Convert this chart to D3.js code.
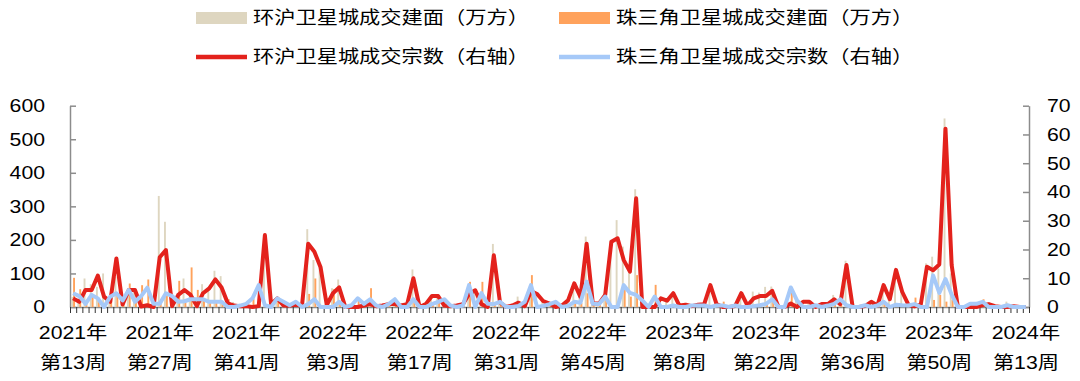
<!DOCTYPE html>
<html>
<head>
<meta charset="utf-8">
<script src="https://cdn.jsdelivr.net/npm/d3@7"></script>
<style>
  body { margin: 0; background: #fff; }
  svg text { font-family: "Liberation Sans", Arial, "Noto Sans CJK SC", sans-serif; fill: #000; }
</style>
</head>
<body>
<svg id="chart"></svg>
<script>
// week ranges: [year, first week, last week]
const weekRanges = [[2021, 13, 52], [2022, 1, 52], [2023, 2, 52], [2024, 2, 13]]
const categories = []
weekRanges.forEach(([yr, a, b]) => {
  for (let w = a; w <= b; w++) categories.push(`${yr}年第${w}周`)
})

const seriesNames = ['环沪卫星城成交建面（万方）', '珠三角卫星城成交建面（万方）', '环沪卫星城成交宗数（右轴）', '珠三角卫星城成交宗数（右轴）']

// 环沪卫星城成交建面（万方）
const hzArea = [30, 20, 85, 68, 60, 100, 20, 90, 10, 50, 45, 5, 10, 0, 331, 254, 5, 40, 85, 40,
  5, 68, 55, 108, 92, 15, 15, 7, 5, 0, 5, 200, 10, 25, 5, 5, 8, 5, 232, 140,
  120, 8, 56, 82, 0, 0, 0, 5, 10, 3, 5, 10, 10, 5, 10, 112, 0, 10, 35, 35,
  5, 3, 5, 10, 40, 50, 10, 0, 188, 15, 0, 5, 31, 3, 50, 40, 20, 12, 0, 5,
  20, 70, 30, 210, 10, 10, 40, 200, 259, 180, 110, 351, 0, 0, 0, 25, 20, 40, 5, 8,
  3, 8, 10, 65, 10, 0, 0, 3, 40, 5, 46, 43, 60, 61, 0, 0, 10, 21, 15, 15,
  0, 8, 8, 36, 8, 138, 0, 0, 3, 15, 5, 65, 25, 110, 45, 5, 2, 8, 130, 150,
  115, 562, 100, 0, 0, 0, 0, 6, 8, 3, 0, 16, 3, 0, 0]

// 珠三角卫星城成交建面（万方）
const zsjArea = [87, 53, 10, 30, 25, 0, 30, 40, 20, 70, 15, 65, 82, 10, 10, 40, 30, 78, 15, 118,
  51, 25, 15, 15, 15, 23, 0, 4, 10, 25, 60, 5, 0, 25, 15, 5, 15, 0, 39, 85,
  0, 0, 53, 15, 0, 5, 25, 10, 56, 4, 0, 8, 22, 0, 0, 22, 0, 0, 8, 15,
  22, 4, 0, 4, 75, 0, 75, 9, 8, 15, 0, 0, 3, 15, 95, 0, 3, 8, 15, 0,
  3, 15, 12, 41, 9, 8, 30, 0, 0, 60, 31, 95, 19, 0, 66, 0, 0, 4, 0, 0,
  4, 4, 4, 0, 4, 16, 0, 4, 0, 0, 2, 5, 9, 31, 0, 0, 46, 18, 0, 0,
  5, 0, 4, 9, 22, 5, 0, 0, 5, 0, 4, 15, 0, 6, 5, 4, 28, 0, 0, 21,
  36, 16, 21, 0, 0, 9, 14, 23, 0, 0, 0, 5, 0, 0, 0]

// 环沪卫星城成交宗数（右轴）
const hzCount = [3, 1.8, 5.9, 5.9, 10.9, 3.6, 1.8, 16.9, 0.9, 5.9, 5.9, 0.2, 0.6, 0, 17.3, 19.8, 0.3, 4.2, 5.9, 4.2,
  0.3, 4.8, 6.5, 9.6, 6.8, 1.3, 0.5, 0.3, 0.3, 0, 0.3, 25, 1, 3, 0.5, 0.5, 0.8, 0.5, 22, 19.2,
  13.8, 0.7, 4.8, 6.8, 0, 0, 0, 0.5, 1, 0.3, 0.5, 1, 1, 0.5, 1, 10, 0, 1, 3.8, 3.8,
  0.5, 0.3, 0.5, 1, 4.5, 5.8, 1, 0, 18, 1.6, 0, 0.5, 1.5, 0.3, 5.5, 4.5, 2, 1.2, 0, 0.5,
  2.3, 8.2, 3.5, 22, 1.2, 1.2, 4.2, 22.7, 23.9, 16.3, 12.3, 37.8, 0, 0, 0, 3, 2.2, 4.8, 0.5, 0.8,
  0.3, 0.8, 1, 7.6, 1, 0, 0, 0.3, 4.8, 0.5, 3, 3.8, 3.8, 5.6, 0, 0, 1.2, 0, 1.8, 1.8,
  0, 1, 1, 2.7, 1, 14.6, 0, 0, 0.3, 1.8, 0.5, 7.6, 2.7, 12.9, 5.3, 0.8, 0.2, 0.8, 14, 12.8,
  14.8, 62, 14.6, 0, 0, 0, 0, 0.7, 1, 0.3, 0, 0, 0.3, 0, 0]

// 珠三角卫星城成交宗数（右轴）
const zsjCount = [4.8, 3.8, 1.1, 4.2, 3, 0, 3.6, 4.8, 2.3, 5.9, 1.8, 3.8, 6.7, 1.1, 1.1, 4.8, 3.8, 1.8, 2, 2.7,
  2.7, 2.7, 1.8, 1.8, 1.8, 0, 0, 0.5, 1.1, 3, 7.6, 0.6, 0, 3, 1.8, 0.6, 1.8, 0, 1, 2.7,
  0, 0, 0, 1.8, 0, 0.6, 3, 1.1, 2.7, 0.5, 0, 1, 2.7, 0, 0, 2.7, 0, 0, 1, 1.8,
  2.7, 0.5, 0, 0.5, 7.6, 0, 4.8, 1.1, 1, 1.8, 0, 0, 0.4, 1.8, 7.6, 0, 0.4, 1, 1.8, 0,
  0.4, 1.8, 1.5, 8.8, 1.1, 1, 3.6, 0, 0, 7.6, 4.9, 4.2, 2.3, 0, 3.6, 0, 0, 0.5, 0, 0,
  0.5, 0.5, 0.5, 0, 0.5, 0.5, 0, 0.5, 0, 0, 0.3, 0.6, 1.1, 2.7, 0, 0, 6.8, 2.3, 0, 0,
  0.6, 0, 0.5, 1.1, 2.7, 0.6, 0, 0, 0.6, 0, 0.5, 1.8, 0, 0.8, 0.6, 0.5, 1, 0, 0, 11,
  4.9, 9.7, 4.3, 0, 0, 1.1, 1.1, 1.8, 0, 0, 0, 0.6, 0, 0, 0]

const leftTicks = [0, 100, 200, 300, 400, 500, 600]
const rightTicks = [0, 10, 20, 30, 40, 50, 60, 70]
const labelEvery = 14

const W = 1080
const H = 381
const plotLeft = 70
const plotRight = 1029
const plotTop = 105.7
const plotBottom = 307
const sx = 1.18 // the source text is a bit wider than tall
const fontSize = 18

const colors = {
  hz: '#DED6C0',
  zsj: '#FFA25C',
  hzLine: '#E3221C',
  zsjLine: '#A6C9F8',
  axis: '#8C8C8C',
}

const svg = d3.select('#chart').attr('width', W).attr('height', H)

const x = d3.scaleBand().domain(categories).range([plotLeft, plotRight])
const xSub = d3.scaleBand().domain(['hz', 'zsj']).range([1.2, 5.0])
const xEdge = d3.scaleLinear().domain([0, categories.length]).range([plotLeft, plotRight])
const yL = d3.scaleLinear().domain([0, 600]).range([plotBottom, plotTop])
const yR = d3.scaleLinear().domain([0, 70]).range([plotBottom, plotTop])

function label(sel, px, py, txt, anchor) {
  sel.append('text')
    .attr('transform', `translate(${px},${py}) scale(${sx},1)`)
    .attr('text-anchor', anchor)
    .attr('dominant-baseline', 'central')
    .style('font-size', fontSize + 'px')
    .text(txt)
}

// left axis
const gL = svg.append('g')
  .attr('transform', `translate(${plotLeft},0)`)
  .call(d3.axisLeft(yL).tickValues(leftTicks).tickSize(-6).tickSizeOuter(0).tickFormat(''))
gL.selectAll('line, path').attr('stroke', colors.axis).attr('stroke-width', 1.5)
leftTicks.forEach((v) => label(svg, 45, yL(v), String(v), 'end'))

// right axis
const gR = svg.append('g')
  .attr('transform', `translate(${plotRight},0)`)
  .call(d3.axisRight(yR).tickValues(rightTicks).tickSize(-6).tickSizeOuter(0).tickFormat(''))
gR.selectAll('line, path').attr('stroke', colors.axis).attr('stroke-width', 1.5)
rightTicks.forEach((v) => label(svg, 1047, yR(v), String(v), 'start'))

// bottom axis, a tick between every week
const gB = svg.append('g')
  .attr('transform', `translate(0,${plotBottom})`)
  .call(d3.axisBottom(xEdge).tickValues(d3.range(categories.length + 1)).tickSize(6).tickSizeOuter(0).tickFormat(''))
gB.select('path').attr('stroke', colors.axis).attr('stroke-width', 1.5)
gB.selectAll('line').attr('stroke', '#333').attr('stroke-width', 1)

categories.forEach((c, i) => {
  if (i % labelEvery !== 0) return
  const cx = x(c) + x.bandwidth() / 2
  const m = c.match(/^(\d+年)(第\d+周)$/)
  label(svg, cx, 333, m[1], 'middle')
  label(svg, cx, 363, m[2], 'middle')
})

// bars
const barData = categories.map((c, i) => ({ c, hz: hzArea[i], zsj: zsjArea[i] }))
svg.append('g')
  .selectAll('g')
  .data(barData)
  .join('g')
  .attr('transform', (d) => `translate(${x(d.c)},0)`)
  .selectAll('rect')
  .data((d) => [{ k: 'hz', v: d.hz }, { k: 'zsj', v: d.zsj }])
  .join('rect')
  .attr('x', (d) => xSub(d.k))
  .attr('width', xSub.bandwidth())
  .attr('y', (d) => yL(d.v))
  .attr('height', (d) => yL(0) - yL(d.v))
  .attr('fill', (d) => colors[d.k])

// lines
const line = d3.line()
  .x((d, i) => x(categories[i]) + x.bandwidth() / 2)
  .y((d) => yR(d))

svg.append('path').datum(hzCount)
  .attr('d', line).attr('fill', 'none')
  .attr('stroke', colors.hzLine).attr('stroke-width', 4).attr('stroke-linejoin', 'round')

svg.append('path').datum(zsjCount)
  .attr('d', line).attr('fill', 'none')
  .attr('stroke', colors.zsjLine).attr('stroke-width', 4).attr('stroke-linejoin', 'round')

// legend
const legend = [
  { name: seriesNames[0], type: 'rect', color: colors.hz, x: 196, y: 18 },
  { name: seriesNames[1], type: 'rect', color: colors.zsj, x: 559, y: 18 },
  { name: seriesNames[2], type: 'line', color: colors.hzLine, x: 196, y: 57 },
  { name: seriesNames[3], type: 'line', color: colors.zsjLine, x: 559, y: 57 },
]
legend.forEach((d) => {
  if (d.type === 'rect') {
    svg.append('rect').attr('x', d.x).attr('y', d.y - 6).attr('width', 51).attr('height', 12).attr('fill', d.color)
  } else {
    svg.append('line').attr('x1', d.x).attr('x2', d.x + 51).attr('y1', d.y).attr('y2', d.y)
      .attr('stroke', d.color).attr('stroke-width', 4.5)
  }
  label(svg, d.x + 57, d.y, d.name, 'start')
})
</script>
</body>
</html>
